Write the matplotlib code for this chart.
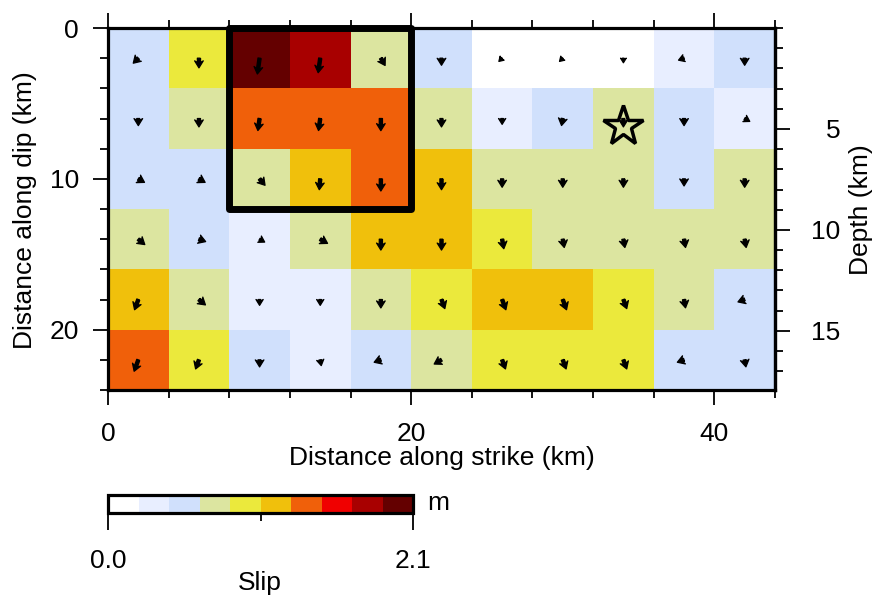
import numpy as np
import matplotlib.pyplot as plt
from matplotlib.colors import ListedColormap, BoundaryNorm
from matplotlib.patches import Rectangle
from matplotlib.ticker import MultipleLocator

plt.rcParams['font.family'] = ['Liberation Sans', 'DejaVu Sans']
plt.rcParams['font.size'] = 19

# fault patches: 11 along strike x 6 along dip, 4 km each
strike_edges = np.arange(0, 45, 4)
dip_edges = np.arange(0, 25, 4)

# slip on each patch (m), top row = shallowest
slip = np.array([
    [0.52, 0.95, 2.00, 1.78, 0.74, 0.52, 0.10, 0.10, 0.10, 0.31, 0.52],
    [0.52, 0.74, 1.36, 1.36, 1.36, 0.74, 0.31, 0.52, 0.74, 0.52, 0.31],
    [0.52, 0.52, 0.74, 1.15, 1.36, 1.15, 0.74, 0.74, 0.74, 0.52, 0.74],
    [0.74, 0.52, 0.31, 0.74, 1.15, 1.15, 0.95, 0.74, 0.74, 0.74, 0.74],
    [1.15, 0.74, 0.31, 0.31, 0.74, 0.95, 1.15, 1.15, 0.95, 0.74, 0.52],
    [1.36, 0.95, 0.52, 0.31, 0.52, 0.74, 0.95, 0.95, 0.95, 0.52, 0.52],
])

# slip direction (deg from straight down on the plot, + towards larger strike distance)
slip_dir = np.array([
    [-45, 0, -8, -8, 30, 0, -45, -45, 0, -70, 0],
    [0, 0, -8, -8, 0, 0, 0, -10, 0, 0, 60],
    [60, 60, 40, -5, 0, 0, 0, 0, 0, 0, 0],
    [50, 70, 60, 60, 0, 0, 10, 10, 10, 10, 10],
    [-20, 50, 0, 0, 0, 20, 20, 20, 20, 10, -70],
    [-20, -20, 0, 10, -70, -60, 20, 20, 20, -70, 10],
])

# hypocentre and high slip box
hypo_x, hypo_y = 34.0, 6.5
box_x0, box_y0, box_x1, box_y1 = 8, 0, 20, 12

cb_colors = ['#ffffff', '#e8eeff', '#d0e0fc', '#dce5a0', '#ebe93c',
             '#f0c00c', '#f0600a', '#f00000', '#a80000', '#640000']
cb_bounds = np.linspace(0, 2.1, 11)
cmap = ListedColormap(cb_colors)
norm = BoundaryNorm(cb_bounds, cmap.N)

sin_dip = 0.747  # depth = distance along dip * sin(dip)

fig = plt.figure(figsize=(8.8, 6.01), dpi=100)
ax = fig.add_axes([108/880, 211/601, 667/880, 362/601])

mesh = ax.pcolormesh(strike_edges, dip_edges, slip, cmap=cmap, norm=norm, zorder=0)

# slip vectors from patch centres; head size fixed, shaft grows with slip
xc = (strike_edges[:-1] + strike_edges[1:]) / 2
yc = (dip_edges[:-1] + dip_edges[1:]) / 2
X, Y = np.meshgrid(xc, yc)
mag = slip + 0.67
ang = np.radians(slip_dir)
ax.quiver(X, Y, mag*np.sin(ang), mag*np.cos(ang), angles='xy',
          scale_units='dots', scale=1/6, units='dots', width=3.2,
          headwidth=2.7, headlength=2.2, headaxislength=1.7, minshaft=1,
          pivot='tail', color='black', edgecolor='black', linewidth=0.9,
          zorder=3)

ax.add_patch(Rectangle((box_x0, box_y0), box_x1 - box_x0, box_y1 - box_y0,
                       fill=False, lw=5, ec='black', joinstyle='round',
                       clip_on=False, zorder=6))
ax.plot(hypo_x, hypo_y, marker='*', ms=30, mfc='none', mec='black', mew=2.5,
        zorder=7)

ax.set_xlim(0, 44)
ax.set_ylim(24, 0)
ax.set_xticks([0, 20, 40])
ax.xaxis.set_minor_locator(MultipleLocator(4))
ax.set_yticks([0, 10, 20])
ax.yaxis.set_minor_locator(MultipleLocator(2))
ax.tick_params(which='both', top=True, right=False, direction='out', width=1.3)
ax.tick_params(which='major', length=11)
ax.tick_params(which='minor', length=6)
ax.tick_params(axis='x', pad=12)
ax.tick_params(axis='y', pad=10)
for s in ax.spines.values():
    s.set_linewidth(2.3)

ax.set_xlabel('Distance along strike (km)')
ax.xaxis.set_label_coords(0.5, -0.155)
fig.text(25/880, 1 - 210/601, 'Distance along dip (km)', rotation=90,
         ha='center', va='center')

secax = ax.secondary_yaxis('right', functions=(lambda d: d * sin_dip,
                                               lambda z: z / sin_dip))
secax.set_yticks([5, 10, 15])
secax.yaxis.set_minor_locator(MultipleLocator(1))
secax.tick_params(which='both', direction='out', width=1.3)
secax.tick_params(which='major', length=11, pad=36)
secax.tick_params(which='minor', length=6)
for lbl in secax.get_yticklabels():
    lbl.set_horizontalalignment('right')
secax.spines['right'].set_linewidth(2.3)
fig.text(861/880, 1 - 210/601, 'Depth (km)', rotation=90,
         ha='center', va='center')

# colour scale
cax = fig.add_axes([108/880, 88/601, 305/880, 18/601])
cb = fig.colorbar(mesh, cax=cax, orientation='horizontal')
cb.set_ticks([0, 2.1])
cb.set_ticklabels(['0.0', '2.1'])
cax.set_xticks([1.05], minor=True)
cax.tick_params(which='major', length=12, width=1.3, pad=14)
cax.tick_params(which='minor', length=6, width=1.3)
cb.outline.set_linewidth(2.3)
fig.text(438/880, 1 - 503/601, 'm', ha='center', va='center')
fig.text(260/880, 1 - 583/601, 'Slip', ha='center', va='center')

fig.savefig('out.png', dpi=100)
